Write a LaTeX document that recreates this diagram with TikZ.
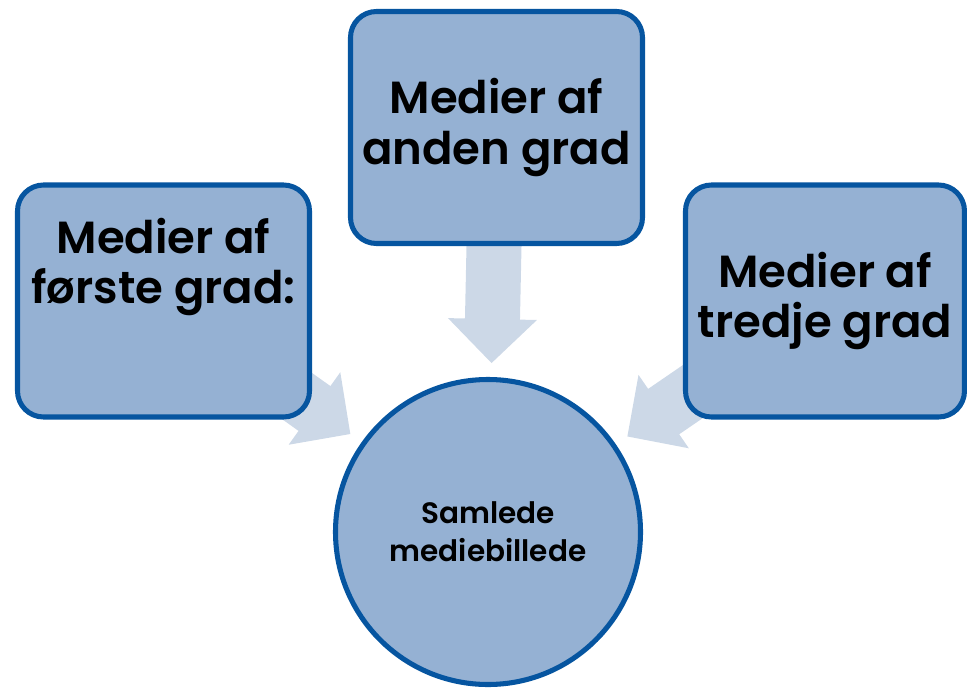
\documentclass[tikz,border=0pt]{standalone}
\usepackage{fontspec}
\setmainfont{Poppins}[BoldFont={Poppins SemiBold}]
\usetikzlibrary{positioning,calc,backgrounds}

\definecolor{boxfill}{RGB}{149,177,211}
\definecolor{boxline}{RGB}{6,85,160}
\definecolor{arrowfill}{RGB}{204,216,231}

\tikzstyle{grade} = [rectangle, rounded corners=0.65cm, minimum width=7.3cm, minimum height=5.8cm, text centered, align=center, draw=boxline, line width=3.6pt, fill=boxfill, font=\fontsize{32}{36}\selectfont\bfseries]
\tikzstyle{whole} = [circle, minimum size=7.625cm, text centered, align=center, draw=boxline, line width=3.6pt, fill=boxfill, font=\fontsize{21}{27}\selectfont\bfseries]
\tikzstyle{arrowbody} = [fill=arrowfill, draw=none]

\newcommand{\blockarrow}[2]{%
  \coordinate (#1 Tip) at ($(#2.center)!4.225cm!(#1.center)$);
  \coordinate (#1 Base) at ($(#1 Tip)!1.1cm!(#1.center)$);
  \fill [arrowbody] ($(#1.center)!0.6875cm!90:(#1 Tip)$) -- ($(#1 Base)!0.6875cm!90:(#1 Tip)$) -- ($(#1 Base)!1.1125cm!90:(#1 Tip)$) -- (#1 Tip) -- ($(#1 Base)!1.1125cm!-90:(#1 Tip)$) -- ($(#1 Base)!0.6875cm!-90:(#1 Tip)$) -- ($(#1.center)!0.6875cm!-90:(#1 Tip)$) -- cycle;
}

\begin{document}
\begin{tikzpicture}[node distance=8.325cm]
        \useasboundingbox (0,0) rectangle (24.175,-17.225);
        \node (Second Grade) [grade] at (12.4125,-3.1875) {Medier af\\anden grad};
        \node (First Grade) [grade, left of = Second Grade, yshift = -4.3375cm, text depth = 57pt] {Medier af\\første grad:};
        \node (Third Grade) [grade, right of = Second Grade, yshift = -4.3375cm, xshift = -0.1125cm, minimum width = 6.975cm] {Medier af\\tredje grad};
        \node (Whole Picture) [whole, node distance = 10.1125cm, below of = Second Grade, xshift = -0.2125cm] {Samlede\\mediebillede};

        \begin{scope}[on background layer]
        \blockarrow{First Grade}{Whole Picture}
        \blockarrow{Second Grade}{Whole Picture}
        \blockarrow{Third Grade}{Whole Picture}
        \end{scope}
    \end{tikzpicture}
\end{document}
